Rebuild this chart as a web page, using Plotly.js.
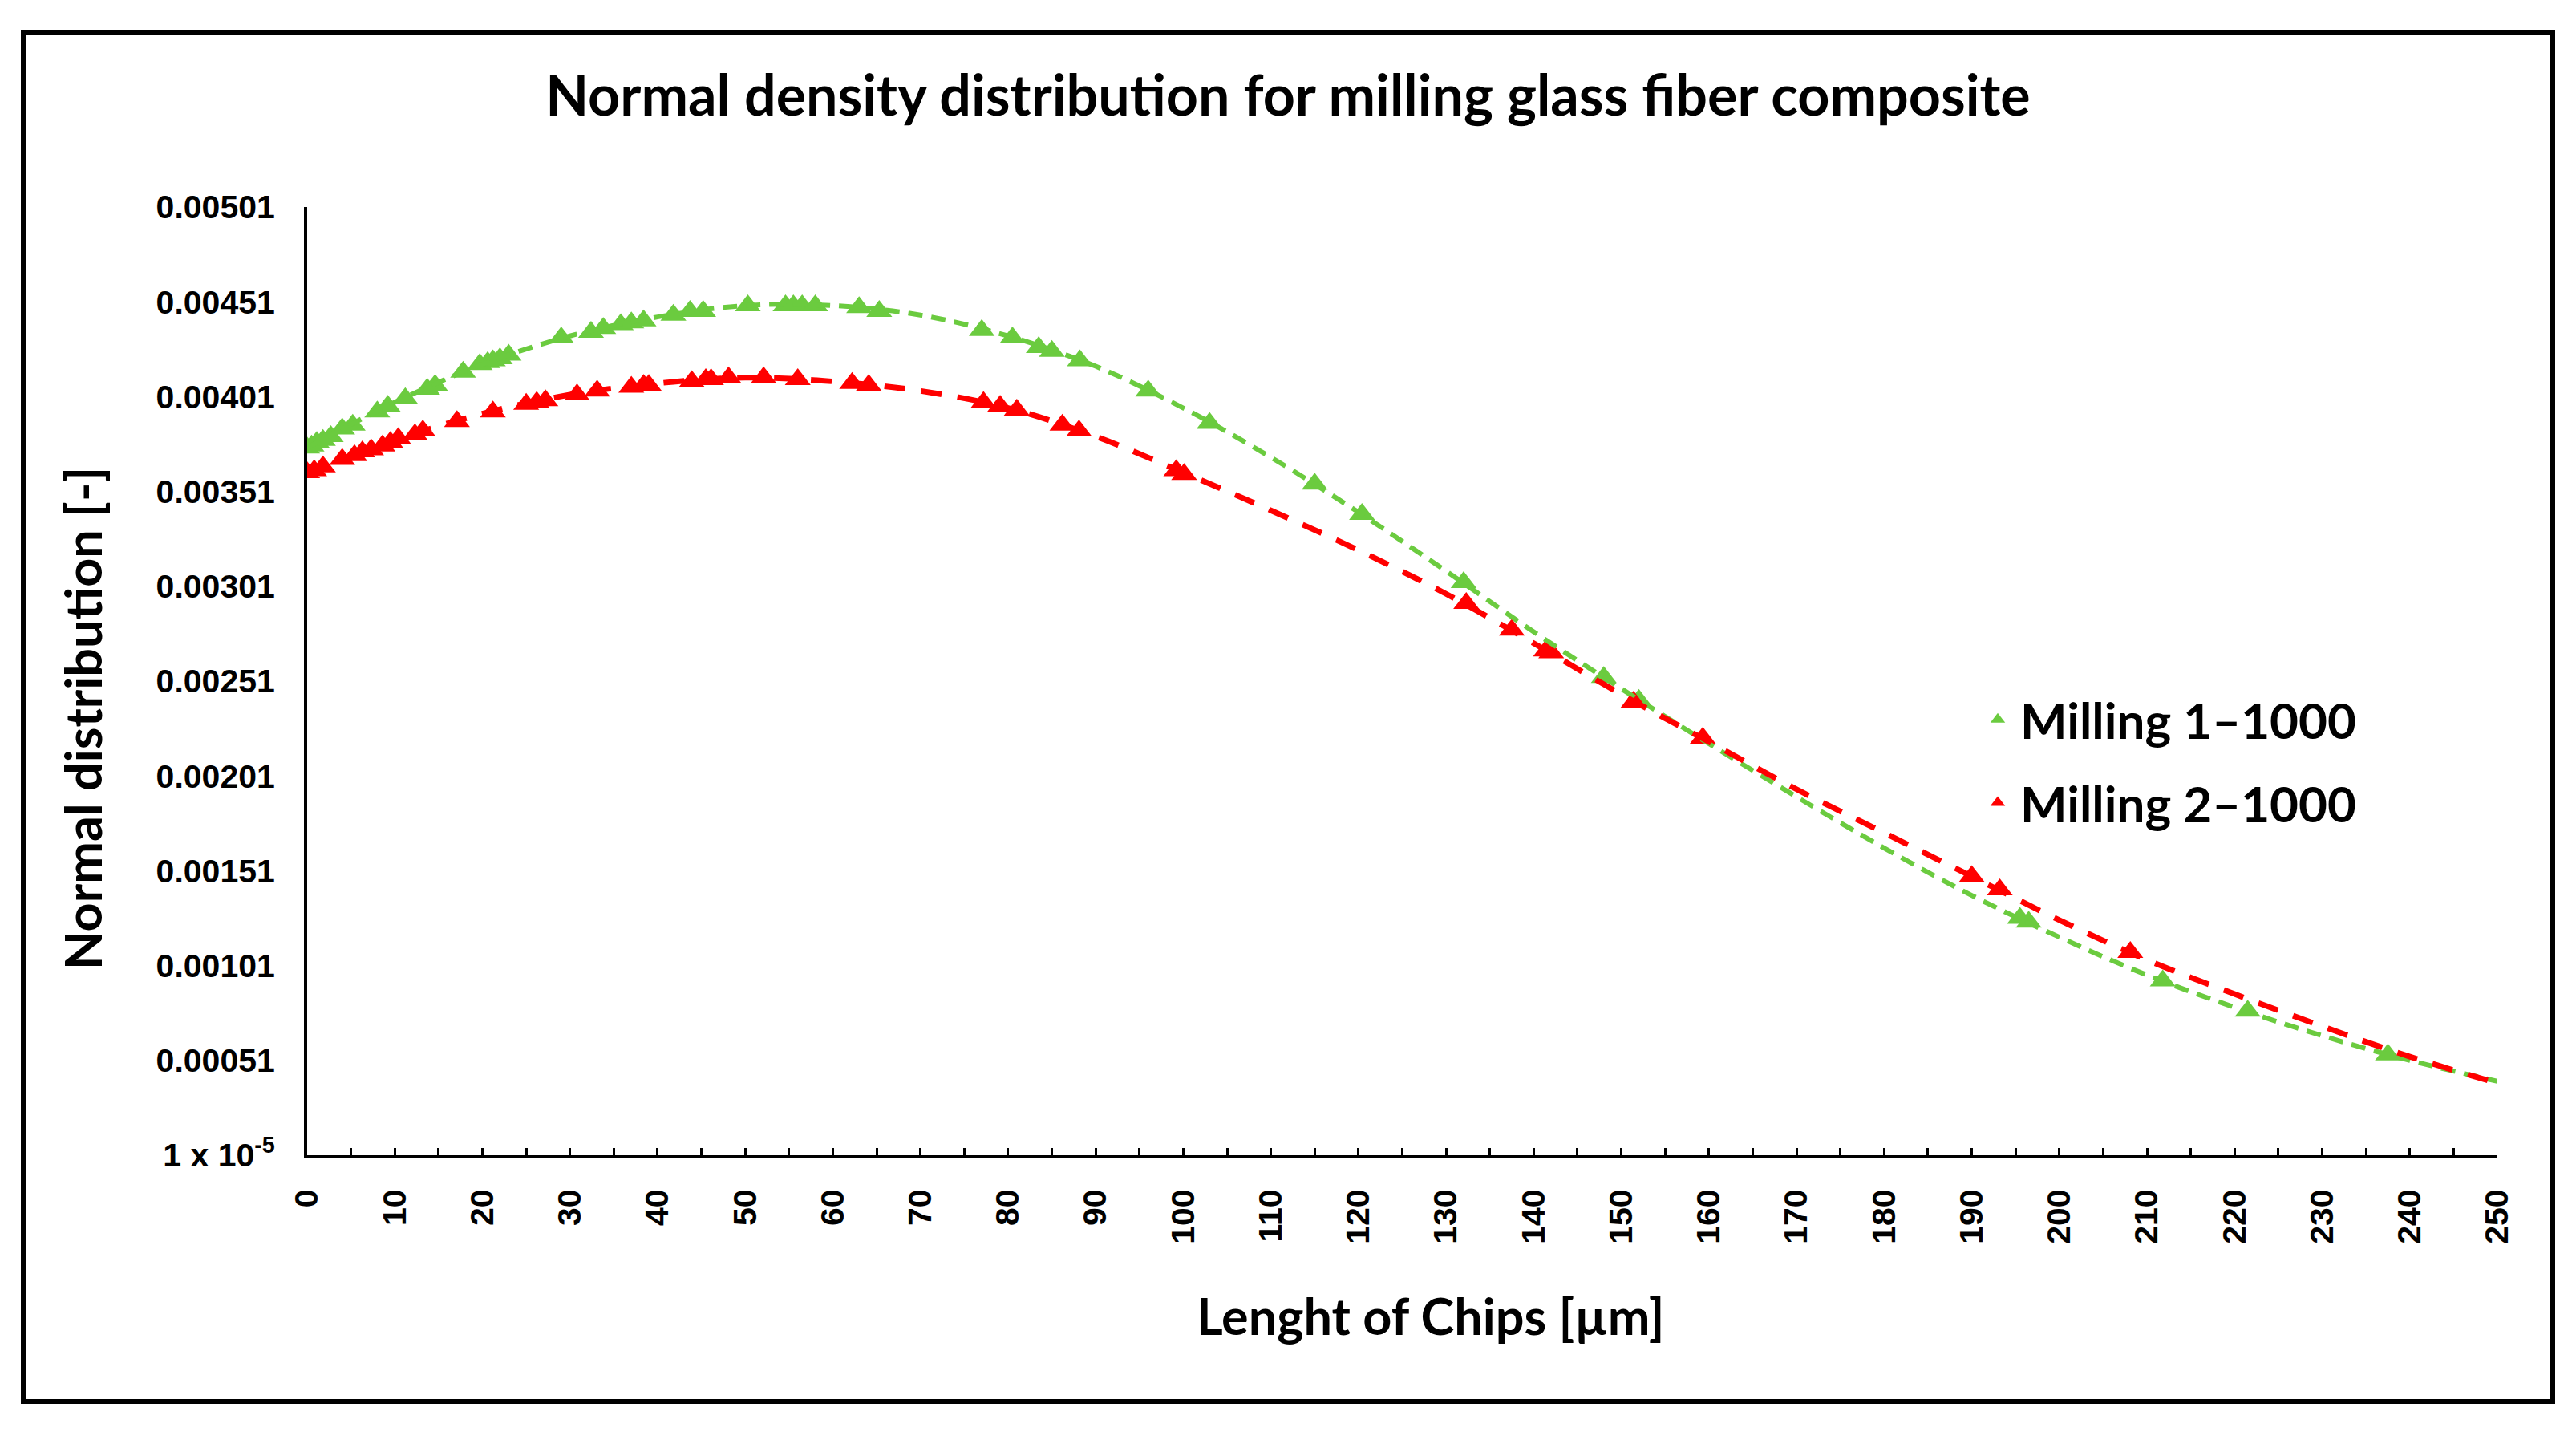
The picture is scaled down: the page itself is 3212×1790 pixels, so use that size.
<!DOCTYPE html>
<html><head><meta charset="utf-8">
<script src="https://cdn.plot.ly/plotly-3.0.1.min.js"></script>
<style>html,body{margin:0;padding:0;background:#fff}#chart{width:3212px;height:1790px}</style>
</head><body><div id="chart"></div>
<script>
// Fitted normal density curves (every 10 µm)
const curveX = [0,10,20,30,40,50,60,70,80,90,100,110,120,130,140,150,160,170,180,190,200,210,220,230,240,250];
const curve1 = [0.00374,0.00398,0.00418,0.00433,0.00443,0.00449,0.00449,0.00444,0.00433,0.00417,0.00395,0.00369,0.00340,0.00309,0.00277,0.00247,0.00218,0.00190,0.00163,0.00138,0.00116,0.00096,0.00079,0.00064,0.00051,0.00040];
const curve2 = [0.00361,0.00378,0.00392,0.00402,0.00408,0.00411,0.00409,0.00404,0.00395,0.00380,0.00361,0.00341,0.00320,0.00297,0.00271,0.00244,0.00219,0.00194,0.00171,0.00148,0.00125,0.00104,0.00086,0.00069,0.00053,0.00039];

// Measured points – Milling 1–1000
const m1X = [0,0.5,1.1,1.8,2.7,4.0,5.2,8.0,9.2,11.2,13.7,14.6,17.8,19.7,20.6,21.2,22.0,23.0,29.0,32.4,33.8,35.8,37.0,38.4,41.8,43.7,45.2,50.3,54.6,55.5,56.5,58.0,63.0,65.3,77.0,80.5,83.5,85.0,88.2,96.0,103.0,115.0,120.4,132.0,148.0,152.0,195.5,196.5,211.8,221.5,237.5];
const m1Y = [0.00374,0.00375,0.00377,0.00378,0.00380,0.00384,0.00386,0.00393,0.00396,0.00400,0.00405,0.00407,0.00414,0.00418,0.00419,0.00420,0.00421,0.00423,0.00432,0.00435,0.00437,0.00439,0.00440,0.00441,0.00444,0.00446,0.00446,0.00449,0.00449,0.00449,0.00449,0.00449,0.00448,0.00446,0.00436,0.00432,0.00427,0.00425,0.00420,0.00404,0.00387,0.00355,0.00339,0.00303,0.00253,0.00241,0.00126,0.00124,0.00093,0.00077,0.00054];

// Measured points – Milling 2–1000
const m2X = [0,0.8,1.8,4.0,5.4,6.3,7.3,8.6,9.5,10.4,12.3,13.2,17.1,21.2,25.0,26.2,27.2,30.8,33.1,37.0,38.4,39.0,43.9,45.5,46.1,48.1,52.1,56.0,62.2,64.1,77.2,79.1,81.0,86.2,88.1,99.2,100.1,132.3,137.5,141.4,142.0,151.4,159.3,190.0,193.2,208.1];
const m2Y = [0.00361,0.00362,0.00364,0.00368,0.00370,0.00372,0.00373,0.00375,0.00377,0.00379,0.00381,0.00383,0.00388,0.00393,0.00397,0.00398,0.00399,0.00402,0.00404,0.00406,0.00407,0.00407,0.00409,0.00410,0.00410,0.00411,0.00411,0.00410,0.00408,0.00407,0.00398,0.00396,0.00394,0.00386,0.00383,0.00362,0.00360,0.00292,0.00278,0.00267,0.00266,0.00240,0.00221,0.00148,0.00141,0.00108];

const yTickVals = [0.00001,0.00051,0.00101,0.00151,0.00201,0.00251,0.00301,0.00351,0.00401,0.00451,0.00501];
const yTickText = ["1 x 10<sup>-5</sup>","0.00051","0.00101","0.00151","0.00201","0.00251","0.00301","0.00351","0.00401","0.00451","0.00501"];

const GREEN = "#6BCB3F", RED = "#FF0000";
const tickFont = {family:"Liberation Sans, Arial, sans-serif", size:41, color:"#000", weight:"bold"};
const axTitleFont = {family:"Lato, 'Open Sans', sans-serif", size:63, color:"#000", weight:"bold"};
const mainTitleFont = {family:"Lato, 'Open Sans', sans-serif", size:70, color:"#000", weight:"bold"};

const traces = [
  {x:m1X, y:m1Y, mode:"markers", name:"Milling 1–1000", legendgroup:"a",
   marker:{symbol:"triangle-up", size:28, color:GREEN}},
  {x:m2X, y:m2Y, mode:"markers", name:"Milling 2–1000", legendgroup:"b",
   marker:{symbol:"triangle-up", size:28, color:RED}},
  {x:curveX, y:curve1, mode:"lines", showlegend:false, hoverinfo:"skip",
   line:{color:GREEN, width:6, dash:"18px,11px", shape:"spline"}},
  {x:curveX, y:curve2, mode:"lines", showlegend:false, hoverinfo:"skip",
   line:{color:RED, width:7, dash:"26px,20px", shape:"spline"}}
];

const layout = {
  width:3212, height:1790,
  margin:{l:383, r:98, t:258, b:350, pad:0},
  paper_bgcolor:"#fff", plot_bgcolor:"#fff",
  title:{text:"Normal density distribution for milling glass fiber composite",
         font:mainTitleFont, x:0.5, xref:"container", xanchor:"center",
         y:1-119/1790, yref:"container", yanchor:"middle"},
  xaxis:{range:[0,250], tick0:0, dtick:10, tickangle:-90,
         ticks:"inside", ticklen:9, tickwidth:3, tickcolor:"#000",
         minor:{dtick:5, tick0:0, ticks:"inside", ticklen:9, tickwidth:3, tickcolor:"#000", showgrid:false},
         showline:true, linewidth:4, linecolor:"#000", showgrid:false, zeroline:false,
         tickfont:tickFont, ticklabelstandoff:22},
  yaxis:{range:[0.00001,0.00501], tickvals:yTickVals, ticktext:yTickText,
         ticks:"", showline:true, linewidth:4, linecolor:"#000", showgrid:false, zeroline:false,
         tickfont:tickFont, ticklabelstandoff:28},
  legend:{x:(2463-383)/2731, xanchor:"left", y:(1440-850)/1182, yanchor:"top",
          font:{family:"Lato, 'Open Sans', sans-serif", size:62, color:"#000", weight:"bold"},
          itemwidth:46, traceorder:"grouped", tracegroupgap:20, bgcolor:"rgba(0,0,0,0)"},
  annotations:[
    {text:"Lenght of Chips [µm]", xref:"paper", yref:"paper",
     x:(1784-383)/2731, y:(1440-1639)/1182, xanchor:"center", yanchor:"middle",
     showarrow:false, font:axTitleFont},
    {text:"Normal distribution [-]", xref:"paper", yref:"paper", textangle:-90,
     x:(102-383)/2731, y:(1440-896)/1182, xanchor:"center", yanchor:"middle",
     showarrow:false, font:axTitleFont}
  ],
  shapes:[
    {type:"rect", xref:"paper", yref:"paper",
     x0:(29-383)/2731, x1:(3183-383)/2731, y0:(1440-1747)/1182, y1:(1440-41)/1182,
     line:{color:"#000", width:6}, fillcolor:"rgba(0,0,0,0)", layer:"below"}
  ]
};

Plotly.newPlot("chart", traces, layout, {displayModeBar:false, staticPlot:true});
</script></body></html>
